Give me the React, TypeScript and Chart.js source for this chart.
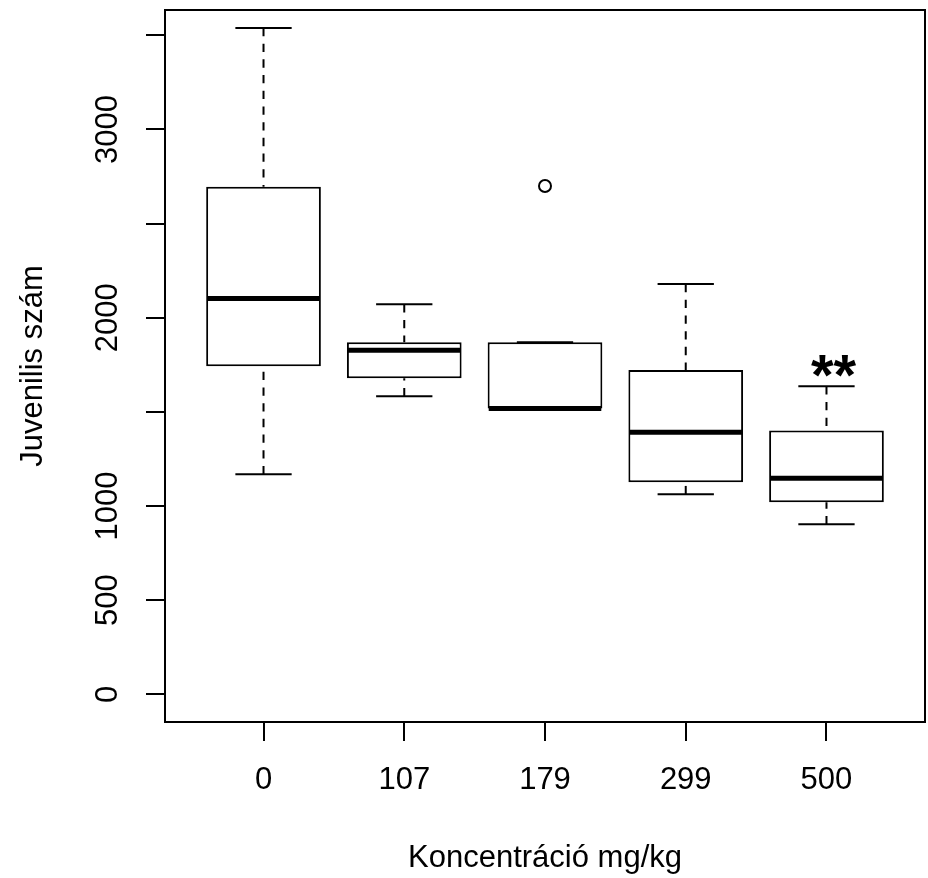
import React, { useEffect, useRef } from "react";
import { Chart, registerables } from "chart.js";

Chart.register(...registerables);

// ---- data ----
const categories = ["0", "107", "179", "299", "500"];
const whiskerLow = [1169, 1583, 1518, 1063, 903];
const quartile1 = [1742, 1679, 1518, 1126, 1020];
const medians = [2103, 1827, 1518, 1392, 1148];
const quartile3 = [2696, 1870, 1870, 1723, 1402];
const whiskerHigh = [3539, 2072, 1870, 2179, 1636];
const outlierGroups = [3];
const outlierValues = [2700];
const yTickValues = [0, 500, 1000, 1500, 2000, 2500, 3000, 3500];
const yTickLabels = ["0", "500", "1000", "", "2000", "", "3000", ""];
const annotationText = "**";
const annotationGroup = 5;
const annotationValue = 1766;

const FONT = "'Liberation Sans', Arial, Helvetica, sans-serif";
const FS = 31;
const BOXWEX = 0.8;
const STAPLE = 0.4;

const boxExtras = {
  id: "boxExtras",
  afterDatasetsDraw(chart: any) {
    const { ctx, chartArea } = chart;
    const x = chart.scales.x;
    const y = chart.scales.y;
    ctx.save();
    ctx.strokeStyle = "#000";
    ctx.lineCap = "butt";
    categories.forEach((_, i) => {
      const g = i + 1;
      const cx = x.getPixelForValue(g);
      // dashed whiskers (drawn from the whisker end to the box)
      ctx.lineWidth = 2;
      ctx.setLineDash([8.3, 7.4]);
      ctx.beginPath();
      ctx.moveTo(cx, y.getPixelForValue(whiskerHigh[i]));
      ctx.lineTo(cx, y.getPixelForValue(quartile3[i]));
      ctx.stroke();
      ctx.beginPath();
      ctx.moveTo(cx, y.getPixelForValue(whiskerLow[i]));
      ctx.lineTo(cx, y.getPixelForValue(quartile1[i]));
      ctx.stroke();
      ctx.setLineDash([]);
      // staples
      const sl = x.getPixelForValue(g - STAPLE / 2);
      const sr = x.getPixelForValue(g + STAPLE / 2);
      [whiskerHigh[i], whiskerLow[i]].forEach((v) => {
        const py = y.getPixelForValue(v);
        ctx.beginPath();
        ctx.moveTo(sl, py);
        ctx.lineTo(sr, py);
        ctx.stroke();
      });
      // median
      const bl = x.getPixelForValue(g - BOXWEX / 2);
      const br = x.getPixelForValue(g + BOXWEX / 2);
      const my = y.getPixelForValue(medians[i]);
      ctx.lineWidth = 5;
      ctx.beginPath();
      ctx.moveTo(bl, my);
      ctx.lineTo(br, my);
      ctx.stroke();
    });
    // annotation
    const fsz = 58;
    ctx.fillStyle = "#000";
    ctx.font = `bold ${fsz}px ${FONT}`;
    ctx.textAlign = "center";
    ctx.textBaseline = "alphabetic";
    ctx.fillText(
      annotationText,
      x.getPixelForValue(annotationGroup) + 7,
      y.getPixelForValue(annotationValue) + 0.57 * fsz
    );
    // frame
    ctx.lineWidth = 2;
    ctx.strokeRect(
      chartArea.left,
      chartArea.top,
      chartArea.right - chartArea.left,
      chartArea.bottom - chartArea.top
    );
    ctx.restore();
  },
};

export default function App() {
  const ref = useRef<HTMLCanvasElement | null>(null);
  useEffect(() => {
    if (!ref.current) return;
    const chart = new Chart(ref.current, {
      type: "bar",
      data: {
        datasets: [
          {
            type: "bar",
            data: categories.map((_, i) => ({ x: i + 1, y: [quartile1[i], quartile3[i]] })) as any,
            backgroundColor: "#fff",
            borderColor: "#000",
            borderWidth: 2,
            borderSkipped: false,
            barPercentage: 0.815,
            categoryPercentage: 1,
          } as any,
          {
            type: "scatter",
            data: outlierGroups.map((g, i) => ({ x: g, y: outlierValues[i] })),
            pointRadius: 6,
            pointBorderWidth: 2,
            pointBorderColor: "#000",
            pointBackgroundColor: "rgba(0,0,0,0)",
            pointStyle: "circle",
          } as any,
        ],
      },
      options: {
        responsive: false,
        animation: false,
        devicePixelRatio: 1,
        layout: { autoPadding: false, padding: { top: 10, right: 3, bottom: 0, left: 0 } },
        plugins: { legend: { display: false }, tooltip: { enabled: false } },
        scales: {
          x: {
            type: "linear",
            offset: false,
            min: 0.3,
            max: 5.7,
            bounds: "data",
            afterBuildTicks: (s: any) => {
              s.ticks = categories.map((_, i) => ({ value: i + 1 }));
            },
            afterFit: (s: any) => {
              s.height = 156;
              s.paddingLeft = 0;
              s.paddingRight = 0;
            },
            ticks: {
              callback: (v: any) => categories[Math.round(Number(v)) - 1],
              font: { family: FONT, size: FS },
              color: "#000",
              padding: 21,
              maxRotation: 0,
              minRotation: 0,
              autoSkip: false,
            },
            grid: {
              offset: false,
              drawOnChartArea: false,
              drawTicks: true,
              tickLength: 19,
              color: "#000",
              lineWidth: 2,
            },
            border: { display: false },
            title: {
              display: true,
              text: "Koncentráció mg/kg",
              font: { family: FONT, size: FS },
              color: "#000",
              padding: { top: 0, bottom: 1 },
            },
          },
          y: {
            type: "linear",
            min: -146.6,
            max: 3634.4,
            afterBuildTicks: (s: any) => {
              s.ticks = yTickValues.map((v) => ({ value: v }));
            },
            afterFit: (s: any) => {
              s.width = 165;
              s.paddingTop = 0;
              s.paddingBottom = 0;
            },
            ticks: {
              callback: (_v: any, i: number) => yTickLabels[i],
              font: { family: FONT, size: FS },
              color: "#000",
              padding: 3,
              minRotation: 90,
              maxRotation: 90,
              crossAlign: "center",
              autoSkip: false,
            },
            grid: {
              drawOnChartArea: false,
              drawTicks: true,
              tickLength: 19,
              color: "#000",
              lineWidth: 2,
            },
            border: { display: false },
            title: {
              display: true,
              text: "Juvenilis szám",
              font: { family: FONT, size: FS },
              color: "#000",
              padding: { top: 15, bottom: 0 },
            },
          },
        },
      } as any,
      plugins: [boxExtras],
    });
    return () => chart.destroy();
  }, []);
  return (
    <div style={{ position: "fixed", left: 0, top: 0, width: 928, height: 878, background: "#fff" }}>
      <canvas ref={ref} width={928} height={878} style={{ display: "block" }} />
    </div>
  );
}
